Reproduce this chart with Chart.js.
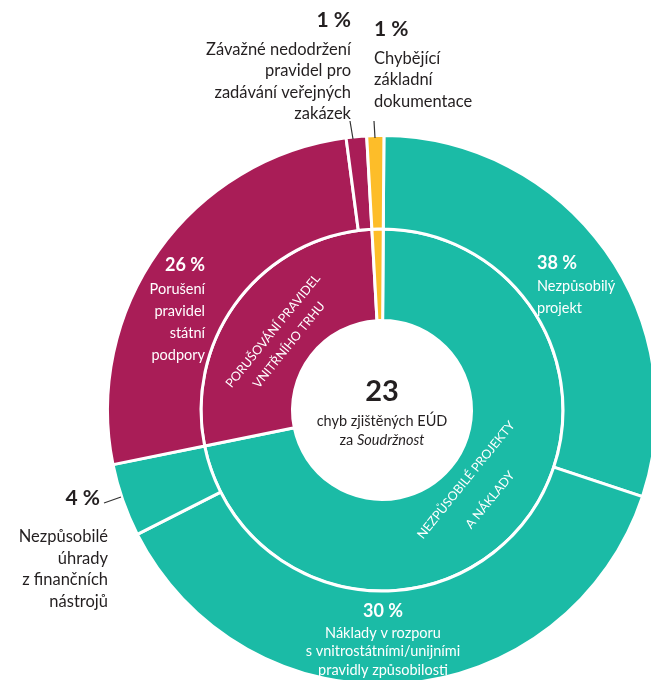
<!DOCTYPE html>
<html>
<head>
<meta charset="utf-8">
<script src="https://cdn.jsdelivr.net/npm/chart.js@4.4.0/dist/chart.umd.min.js"></script>
<style>
  html, body { margin: 0; padding: 0; background: #fff; overflow: hidden; width: 651px; height: 680px; }
  #wrap { position: absolute; left: 0; top: 0; }
</style>
</head>
<body>
<div id="wrap"><canvas id="chart" width="658" height="686"></canvas></div>
<script>
// outer ring, clockwise from 12 o'clock
const categories = [
  'Nezpůsobilý projekt',
  'Náklady v rozporu s vnitrostátními/unijními pravidly způsobilosti',
  'Nezpůsobilé úhrady z finančních nástrojů',
  'Porušení pravidel státní podpory',
  'Závažné nedodržení pravidel pro zadávání veřejných zakázek',
  'Chybějící základní dokumentace'
];
const printedPct = [38, 30, 4, 26, 1, 1];          // numbers printed on the chart
const arcShare = [30.0, 37.4, 4.3, 26.1, 1.2, 1.0]; // share of the circle each slice takes
const groupOf = [0, 0, 0, 1, 1, 2];
const groups = ['Nezpůsobilé projekty a náklady', 'Porušování pravidel vnitřního trhu', 'Chybějící dokumentace'];
const errorsFound = 23;

const teal = '#1bbba6';
const berry = '#a91d57';
const gold = '#fdbd29';
const groupColors = [teal, berry, gold];
const ink = '#231f20';

// inner ring = sums per group
const groupShare = groups.map((g, i) =>
  arcShare.reduce((s, v, j) => (groupOf[j] === i ? s + v : s), 0));

const font = 'Lato, "Noto Sans", sans-serif';

function textBlock(ctx, rows, x, y, lh, align, color) {
  ctx.textAlign = align;
  ctx.textBaseline = 'middle';
  ctx.fillStyle = color;
  rows.forEach((r, i) => {
    ctx.font = r.f;
    ctx.fillText(r.t, x, y + i * lh + (r.dy || 0));
  });
}

const labelPlugin = {
  id: 'labels',
  afterDraw(chart) {
    const ctx = chart.ctx;
    ctx.save();
    const big = 'bold 21px ' + font;
    const reg = '16.5px ' + font;
    const bIn = 'bold 18px ' + font;
    const rIn = '14.5px ' + font;

    // leader lines
    ctx.strokeStyle = '#333';
    ctx.lineWidth = 1.2;
    ctx.beginPath();
    ctx.moveTo(350, 121); ctx.lineTo(353, 139);
    ctx.moveTo(374, 121); ctx.lineTo(375, 138);
    ctx.moveTo(104, 503); ctx.lineTo(121, 497);
    ctx.stroke();

    // top left
    textBlock(ctx, [
      { t: printedPct[4] + ' %', f: big, dy: -8 },
      { t: 'Závažné nedodržení', f: reg },
      { t: 'pravidel pro', f: reg },
      { t: 'zadávání veřejných', f: reg },
      { t: 'zakázek', f: reg }
    ], 351, 28, 21.5, 'right', ink);
    // top right
    textBlock(ctx, [
      { t: printedPct[5] + ' %', f: big, dy: -8 },
      { t: 'Chybějící', f: reg },
      { t: 'základní', f: reg },
      { t: 'dokumentace', f: reg }
    ], 374, 37, 21.5, 'left', ink);
    // left
    textBlock(ctx, [{ t: printedPct[2] + ' %', f: big }], 100, 498, 0, 'right', ink);
    textBlock(ctx, [
      { t: 'Nezpůsobilé', f: reg },
      { t: 'úhrady', f: reg },
      { t: 'z finančních', f: reg },
      { t: 'nástrojů', f: reg }
    ], 108, 537, 21.5, 'right', ink);

    // inside slices
    textBlock(ctx, [
      { t: printedPct[0] + ' %', f: bIn, dy: -2 },
      { t: 'Nezpůsobilý', f: rIn },
      { t: 'projekt', f: rIn }
    ], 537, 265, 21.5, 'left', '#fff');
    textBlock(ctx, [
      { t: printedPct[3] + ' %', f: bIn, dy: -3 },
      { t: 'Porušení', f: rIn },
      { t: 'pravidel', f: rIn },
      { t: 'státní', f: rIn },
      { t: 'podpory', f: rIn }
    ], 205, 268, 21.8, 'right', '#fff');
    textBlock(ctx, [{ t: printedPct[1] + ' %', f: bIn }], 383, 611, 0, 'center', '#fff');
    textBlock(ctx, [
      { t: 'Náklady v rozporu', f: rIn },
      { t: 's vnitrostátními/unijními', f: rIn },
      { t: 'pravidly způsobilosti', f: rIn }
    ], 383, 633, 18.5, 'center', '#fff');

    // centre
    textBlock(ctx, [{ t: String(errorsFound), f: 'bold 29px ' + font }], 382, 392, 0, 'center', ink);
    textBlock(ctx, [{ t: 'chyb zjištěných EÚD', f: '14.5px ' + font }], 382, 421, 0, 'center', ink);
    ctx.font = '14.5px ' + font;
    const w1 = ctx.measureText('za ').width;
    ctx.font = 'italic 14.5px ' + font;
    const w2 = ctx.measureText('Soudržnost').width;
    const sx = 382 - (w1 + w2) / 2;
    ctx.textAlign = 'left';
    ctx.font = '14.5px ' + font;
    ctx.fillText('za ', sx, 440);
    ctx.font = 'italic 14.5px ' + font;
    ctx.fillText('Soudržnost', sx + w1, 440);

    // rotated group names in the inner ring (one point per line)
    const rot = (ang, rows) => {
      rows.forEach(r => {
        ctx.save();
        ctx.translate(r.x, r.y);
        ctx.rotate(ang * Math.PI / 180);
        ctx.font = '12.5px ' + font;
        ctx.fillStyle = '#fff';
        ctx.textAlign = 'center';
        ctx.textBaseline = 'middle';
        ctx.fillText(r.t, 0, 0);
        ctx.restore();
      });
    };
    rot(-51, [
      { t: 'PORUŠOVÁNÍ PRAVIDEL', x: 273, y: 331 },
      { t: 'VNITŘNÍHO TRHU', x: 289, y: 345 }
    ]);
    rot(-51, [
      { t: 'NEZPŮSOBILÉ PROJEKTY', x: 466, y: 480 },
      { t: 'A NÁKLADY', x: 490, y: 500 }
    ]);

    ctx.restore();
  }
};

new Chart(document.getElementById('chart'), {
  type: 'doughnut',
  data: {
    labels: categories,
    datasets: [
      {
        data: arcShare,
        backgroundColor: groupOf.map(g => groupColors[g]),
        borderColor: '#fff',
        borderWidth: 3,
        weight: 93.5
      },
      {
        data: groupShare,
        backgroundColor: groupColors,
        borderColor: '#fff',
        borderWidth: 3,
        weight: 91.5
      }
    ]
  },
  options: {
    responsive: false,
    animation: false,
    cutout: 89.5,
    rotation: 0.4,
    layout: { padding: { left: 106, top: 134, right: 0, bottom: 0 } },
    plugins: { legend: { display: false }, tooltip: { enabled: false } }
  },
  plugins: [labelPlugin]
});
</script>
</body>
</html>
